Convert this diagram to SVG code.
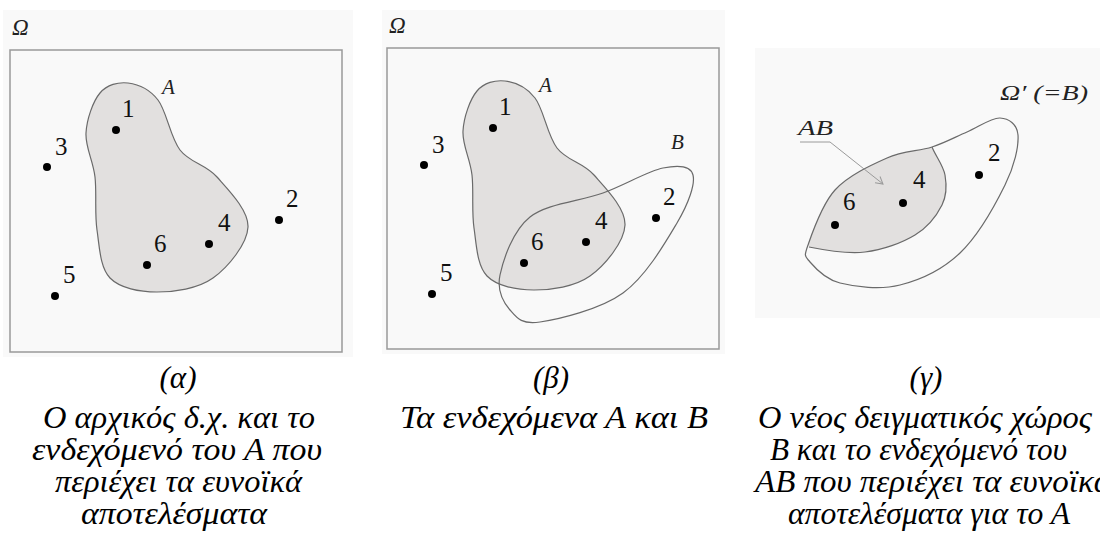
<svg xmlns="http://www.w3.org/2000/svg" width="1100" height="539" viewBox="0 0 1100 539">
<defs>
<style>
.bg{fill:#f9f9f9;stroke:none}
.box{fill:none;stroke:#999;stroke-width:1.5}
.setA{fill:#e2e0df;stroke:#6a6a6a;stroke-width:1.2}
.outline{fill:none;stroke:#6a6a6a;stroke-width:1.2}
.dot{fill:#000}
.num{font-family:"Liberation Serif","Times New Roman",serif;font-size:25px;fill:#111}
.lbl{font-family:"Liberation Serif","Times New Roman",serif;font-style:italic;font-size:21px;fill:#222}
.omega{font-family:"Liberation Serif","Times New Roman",serif;font-style:italic;font-size:23px;fill:#222}
.cap{font-family:"Liberation Serif","Times New Roman",serif;font-style:italic;font-size:31px;fill:#000}
.lead{fill:none;stroke:#9a9a9a;stroke-width:1}
</style>
<path id="shapeA" d="M128,83 C137.7,84.2 149.3,88.8 158,100 C166.7,111.2 170.2,137.2 180,150 C189.8,162.8 205.7,164.2 217,177 C228.3,189.8 248.7,210.2 248,227 C247.3,243.8 228.2,267.2 213,278 C197.8,288.8 174.2,292 157,292 C139.8,292 120,288.3 110,278 C100,267.7 99.5,246.8 97,230 C94.5,213.2 96.8,193.2 95,177 C93.2,160.8 85.2,147 86,133 C86.8,119 93,101.3 100,93 C107,84.7 118.3,81.8 128,83 Z"/>
<marker id="openArrow" markerWidth="10" markerHeight="10" refX="8" refY="5" orient="auto" markerUnits="userSpaceOnUse">
<path d="M1,1 L8,5 L1,9" fill="none" stroke="#9a9a9a" stroke-width="1"/>
</marker>
</defs>
<rect width="1100" height="539" fill="#ffffff"/>

<!-- Panel alpha -->
<g id="panel-a">
<rect class="bg" x="3" y="10" width="350" height="347"/>
<rect class="box" x="10" y="50" width="332" height="302"/>
<text class="omega" x="12" y="35">Ω</text>
<g id="setA-a"><use href="#shapeA" class="setA"/><text class="lbl" x="162" y="94">A</text></g>
<g id="pt1-a"><circle class="dot" cx="116" cy="130" r="4"/><text class="num" x="122" y="117">1</text></g>
<g id="pt3-a"><circle class="dot" cx="47" cy="167" r="4"/><text class="num" x="55" y="155">3</text></g>
<g id="pt2-a"><circle class="dot" cx="279" cy="220" r="4"/><text class="num" x="286" y="207">2</text></g>
<g id="pt4-a"><circle class="dot" cx="209" cy="244" r="4"/><text class="num" x="218" y="231">4</text></g>
<g id="pt6-a"><circle class="dot" cx="147" cy="265" r="4"/><text class="num" x="154" y="252">6</text></g>
<g id="pt5-a"><circle class="dot" cx="55" cy="296" r="4"/><text class="num" x="63" y="283">5</text></g>
</g>

<!-- Panel beta -->
<g id="panel-b">
<rect class="bg" x="382" y="10" width="343" height="344"/>
<rect class="box" x="387" y="48" width="332" height="301"/>
<g transform="translate(377,-2)">
<text class="omega" x="12" y="35">Ω</text>
<g id="setA-b"><use href="#shapeA" class="setA"/><text class="lbl" x="162" y="94">A</text></g>
</g>
<g id="setB-b">
<path class="outline" d="M500,275 C503.3,259.5 512.8,230.7 530,217 C547.2,203.3 580.8,201.2 603,193 C625.2,184.8 648,171 663,168 C678,165 690.7,165.8 693,175 C695.3,184.2 688.7,203.3 677,223 C665.3,242.7 645.8,276.5 623,293 C600.2,309.5 558.8,319.2 540,322 C521.2,324.8 516.7,317.8 510,310 C503.3,302.2 496.7,290.5 500,275 Z"/>
<text class="lbl" x="671" y="149">B</text>
</g>
<g transform="translate(377,-2)">
<g id="pt1-b"><circle class="dot" cx="116" cy="130" r="4"/><text class="num" x="122" y="117">1</text></g>
<g id="pt3-b"><circle class="dot" cx="47" cy="167" r="4"/><text class="num" x="55" y="155">3</text></g>
<g id="pt2-b"><circle class="dot" cx="279" cy="220" r="4"/><text class="num" x="286" y="207">2</text></g>
<g id="pt4-b"><circle class="dot" cx="209" cy="244" r="4"/><text class="num" x="218" y="231">4</text></g>
<g id="pt6-b"><circle class="dot" cx="147" cy="265" r="4"/><text class="num" x="154" y="252">6</text></g>
<g id="pt5-b"><circle class="dot" cx="55" cy="296" r="4"/><text class="num" x="63" y="283">5</text></g>
</g>
</g>

<!-- Panel gamma -->
<g id="panel-c">
<rect class="bg" x="755" y="48" width="345" height="270"/>
<g id="setAB-c">
<path fill="#e2e0df" stroke="none" d="M808,245 C812.2,233 821.8,204.5 835,190 C848.2,175.5 870.8,165.2 887,158 C903.2,150.8 918.7,151.3 932,147 C935,155 943.3,165.3 945,175 C946.7,184.7 947,195 942,205 C937,215 927.8,227.2 915,235 C902.2,242.8 882.7,250 865,252 C847.3,254 819,249 809,247 Z"/>
<path class="outline" d="M932,147 C935,155 943.3,165.3 945,175 C946.7,184.7 947,195 942,205 C937,215 927.8,227.2 915,235 C902.2,242.8 882.7,250 865,252 C847.3,254 819,249 809,247"/>
</g>
<g id="setB-c">
<path class="outline" d="M808,245 C812.2,233 821.8,204.5 835,190 C848.2,175.5 870.8,165.2 887,158 C903.2,150.8 918.7,151.3 932,147 C945.3,142.7 955.7,136.8 967,132 C978.3,127.2 991.5,117.5 1000,118 C1008.5,118.5 1017.2,123.8 1018,135 C1018.8,146.2 1014.7,165.3 1005,185 C995.3,204.7 977.5,236.3 960,253 C942.5,269.7 920,280 900,285 C880,290 855,286.8 840,283 C825,279.2 815.3,268.3 810,262 C804.7,255.7 803.8,257 808,245 Z"/>
<text class="lbl" x="1000" y="100" textLength="88" lengthAdjust="spacingAndGlyphs">Ω′ (=B)</text>
</g>
<g id="label-AB">
<text class="lbl" x="798" y="135" textLength="35" lengthAdjust="spacingAndGlyphs">AB</text>
</g>
<g id="pt6-c"><circle class="dot" cx="835" cy="225" r="4"/><text class="num" x="843" y="210">6</text></g>
<g id="pt4-c"><circle class="dot" cx="903" cy="203" r="4"/><text class="num" x="913" y="188">4</text></g>
<g id="pt2-c"><circle class="dot" cx="979" cy="175" r="4"/><text class="num" x="988" y="161">2</text></g>
</g>

<g id="connectors">
<polyline class="lead" points="800,142 830,142 883,184" marker-end="url(#openArrow)"/>
</g>

<!-- Captions -->
<g id="caption-a">
<text class="cap" x="178" y="388" text-anchor="middle">(α)</text>
<text class="cap" x="43" y="428" textLength="272" lengthAdjust="spacingAndGlyphs">Ο αρχικός δ.χ. και το</text>
<text class="cap" x="32" y="460" textLength="290" lengthAdjust="spacingAndGlyphs">ενδεχόμενό του  Α  που</text>
<text class="cap" x="55" y="492" textLength="247" lengthAdjust="spacingAndGlyphs">περιέχει τα ευνοϊκά</text>
<text class="cap" x="81" y="524" textLength="186" lengthAdjust="spacingAndGlyphs">αποτελέσματα</text>
</g>
<g id="caption-b">
<text class="cap" x="551" y="388" text-anchor="middle">(β)</text>
<text class="cap" x="400" y="428" textLength="308" lengthAdjust="spacingAndGlyphs">Τα ενδεχόμενα Α και Β</text>
</g>
<g id="caption-c">
<text class="cap" x="926" y="388" text-anchor="middle">(γ)</text>
<text class="cap" x="758" y="428" textLength="334" lengthAdjust="spacingAndGlyphs">Ο νέος δειγματικός χώρος</text>
<text class="cap" x="770" y="460" textLength="297" lengthAdjust="spacingAndGlyphs">Β και το ενδεχόμενό του</text>
<text class="cap" x="755" y="492" textLength="356" lengthAdjust="spacingAndGlyphs">ΑΒ που περιέχει τα ευνοϊκά</text>
<text class="cap" x="788" y="524" textLength="282" lengthAdjust="spacingAndGlyphs">αποτελέσματα για το Α</text>
</g>
</svg>
